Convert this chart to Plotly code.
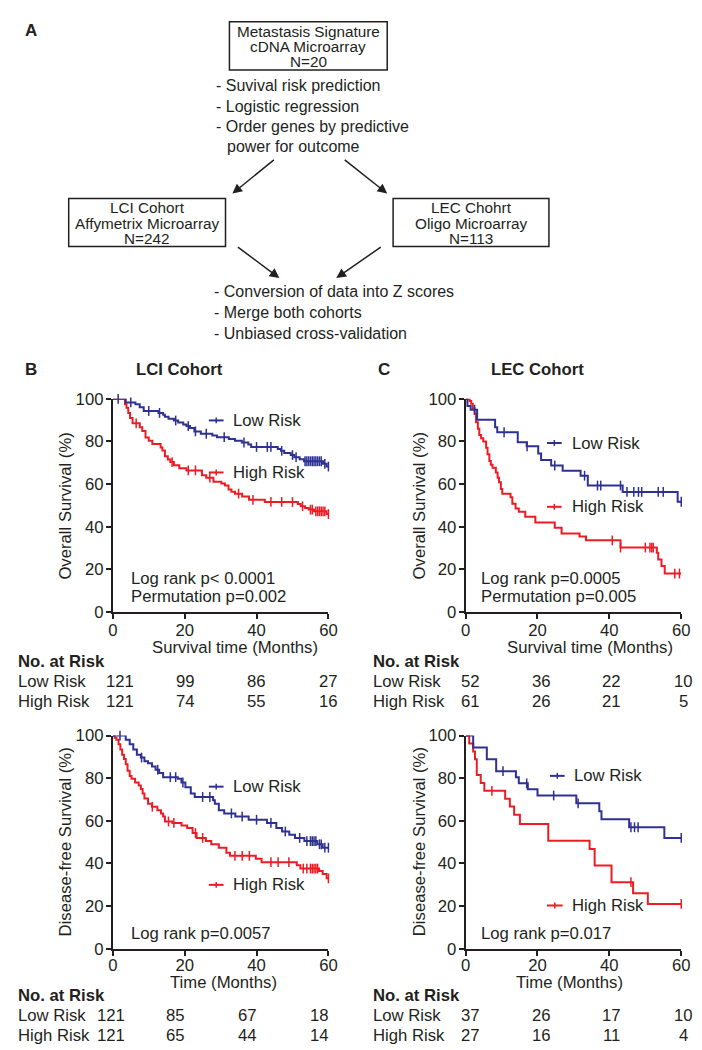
import numpy as np
import plotly.graph_objects as go

W, H = 702, 1050
def px(x): return x / W
def py(y): return 1 - y / H

FONT = "Liberation Sans, Arial, Helvetica, sans-serif"
BLACK = "#231F20"
BLUE = "#2E3192"
RED = "#ED1C24"
FS = 16.7

# ---------------- data (months, % surviving) ----------------
# LCI cohort, overall survival
lci_os_low_t = [0, 3.6, 6.3, 7.5, 8.6, 12.7, 14.0, 14.5, 15.5, 17.0, 18.2, 19.6, 20.5, 21.5, 22.7, 24.5, 27.7, 29.0,
                32.3, 34.0, 35.9, 37.7, 38.5, 45.9, 46.8, 47.7, 49.5, 50.5, 52.0, 53.2, 58.5, 59.5, 60]
lci_os_low_s = [100, 98.3, 97.5, 96.0, 94.3, 93.4, 92.5, 91.6, 90.7, 89.8, 88.9, 88.0, 87.2, 86.3, 84.7, 83.6, 82.8, 82.0,
                81.1, 80.3, 79.5, 78.6, 77.4, 76.5, 75.6, 74.6, 73.6, 72.6, 71.6, 70.7, 69.5, 68.2, 68.2]
lci_os_low_cens = [1.5, 5.0, 10.0, 13.0, 17.5, 21.0, 23.0, 26.0, 31.0, 36.5, 40.0, 43.0, 44.0, 47.0, 50.0, 51.0,
                   53.5, 54.0, 54.5, 55.0, 55.5, 56.0, 56.5, 57.0, 57.5, 58.0, 59.0, 60.0]

lci_os_high_t = [0, 3.4, 3.8, 4.3, 4.8, 5.5, 7.5, 8.2, 9.1, 10.0, 11.0, 13.3, 13.8, 14.5, 15.3, 16.0, 17.0, 18.5, 20.5,
                 24.8, 26.0, 28.0, 30.2, 31.2, 32.2, 33.0, 34.0, 36.0, 37.9, 42.3, 51.5, 52.3, 53.5, 54.5, 56.0, 59.5, 60]
lci_os_high_s = [100, 97.5, 95.8, 93.4, 91.0, 88.5, 86.7, 84.9, 81.8, 80.3, 78.8, 77.2, 75.7, 73.0, 71.5, 70.3, 68.8, 67.4,
                 66.4, 64.1, 63.0, 61.1, 60.2, 59.3, 57.5, 56.4, 55.5, 54.2, 52.6, 51.6, 50.6, 49.6, 48.8, 48.0, 47.2, 45.9, 45.9]
lci_os_high_cens = [6.5, 16.5, 21.0, 23.0, 27.0, 35.0, 39.0, 44.0, 47.0, 50.0, 52.8, 55.0, 55.5, 56.5, 57.0, 57.5,
                    58.0, 58.5, 59.0, 60.0]

# LEC cohort, overall survival
lec_os_low_t = [0, 0.5, 1.4, 3.2, 8.2, 8.8, 14.5, 17.0, 20.2, 21.0, 23.8, 27.0, 32.0, 34.0, 43.7, 59.0, 60]
lec_os_low_s = [100, 96.6, 94.9, 90.2, 86.6, 84.3, 79.6, 77.7, 74.3, 71.3, 68.7, 66.2, 63.9, 59.3, 56.3, 51.7, 51.7]
lec_os_low_cens = [2.5, 10.7, 17.1, 24.8, 33.1, 36.7, 37.6, 43.1, 44.9, 46.8, 48.1, 49.0, 53.6, 55.0, 60.0]

lec_os_high_t = [0, 1.1, 1.55, 2.0, 2.5, 2.9, 3.4, 3.8, 4.3, 4.9, 5.7, 6.1, 6.6, 7.0, 7.5, 8.4, 8.9, 9.3, 9.8, 10.2,
                 12.5, 13.0, 13.9, 14.8, 16.6, 19.4, 24.8, 26.7, 31.7, 33.5, 43.1, 53.2, 53.6, 54.5, 55.4, 60]
lec_os_high_s = [100, 99.0, 97.7, 95.4, 93.0, 89.0, 86.0, 83.0, 81.5, 80.0, 77.0, 74.0, 70.8, 69.0, 67.7, 65.4, 63.0,
                 60.8, 57.7, 55.4, 53.8, 50.8, 48.5, 47.0, 44.6, 42.0, 39.5, 36.8, 35.4, 33.6, 30.2, 27.7, 24.6, 21.5,
                 18.0, 18.0]
lec_os_high_cens = [40.8, 43.1, 50.0, 51.3, 51.8, 52.2, 58.2, 59.5]

# LCI cohort, disease-free survival
lci_dfs_low_t = [0, 3.6, 4.7, 5.7, 6.7, 7.8, 8.8, 9.8, 10.9, 11.9, 12.9, 14.0, 18.1, 19.1, 20.2, 21.7, 22.8, 27.9,
                 28.4, 29.5, 31.0, 34.1, 37.8, 42.9, 45.5, 47.1, 49.1, 50.7, 53.3, 56.9, 58.4, 60]
lci_dfs_low_s = [100, 98.0, 96.0, 93.5, 91.0, 89.7, 88.0, 87.0, 85.5, 84.0, 82.5, 80.5, 79.7, 78.0, 75.8, 72.8, 71.2,
                 69.7, 68.0, 65.0, 63.5, 62.0, 60.5, 59.0, 56.6, 55.0, 53.5, 52.0, 50.5, 49.0, 47.4, 47.4]
lci_dfs_low_cens = [2.0, 8.0, 12.5, 16.0, 17.5, 19.5, 25.0, 27.0, 33.0, 36.0, 40.0, 44.0, 48.0, 52.0, 54.0, 55.0,
                    55.5, 56.0, 56.5, 57.5, 58.0, 59.0, 60.0]

lci_dfs_high_t = [0, 0.5, 1.0, 1.6, 2.1, 2.6, 3.1, 3.6, 4.1, 4.7, 5.2, 6.2, 7.2, 7.8, 8.3, 8.8, 9.8, 10.9, 12.4, 13.4,
                  14.0, 14.5, 16.6, 19.1, 20.7, 22.2, 23.3, 25.9, 27.4, 29.5, 31.6, 32.6, 39.8, 41.4, 51.2, 52.2,
                  57.4, 58.4, 59.5, 60]
lci_dfs_high_s = [100, 99.0, 98.0, 96.0, 93.5, 91.0, 89.0, 86.6, 83.5, 81.0, 79.7, 78.0, 76.6, 75.0, 72.8, 70.5, 68.0,
                  66.6, 65.0, 63.5, 62.0, 59.7, 59.0, 57.8, 56.6, 54.3, 52.0, 50.5, 49.0, 47.4, 45.0, 43.6, 42.2,
                  40.6, 39.2, 37.6, 36.4, 35.0, 33.0, 33.0]
lci_dfs_high_cens = [11.0, 15.5, 17.0, 23.0, 25.0, 34.0, 36.0, 38.0, 44.0, 46.0, 49.0, 53.0, 54.0, 55.0, 55.5, 56.0,
                     56.5, 57.0, 60.0]

# LEC cohort, disease-free survival
lec_dfs_low_t = [0, 2.1, 5.9, 8.5, 14.0, 14.8, 17.3, 20.0, 30.8, 37.2, 37.8, 45.5, 55.3, 60]
lec_dfs_low_s = [100, 94.4, 88.9, 83.3, 80.5, 77.6, 74.8, 71.9, 68.2, 64.5, 60.7, 57.0, 52.0, 52.0]
lec_dfs_low_cens = [10.4, 17.0, 24.5, 31.3, 46.0, 47.0, 48.0, 60.0]

lec_dfs_high_t = [0, 1.0, 2.1, 2.6, 3.1, 4.2, 5.2, 11.0, 12.3, 13.5, 15.1, 23.0, 34.5, 35.9, 40.6, 46.6, 50.7, 60]
lec_dfs_high_s = [100, 96.3, 92.6, 88.9, 81.5, 77.8, 74.1, 70.4, 66.7, 62.8, 58.5, 50.6, 46.8, 39.0, 31.2, 26.0,
                  21.0, 21.0]
lec_dfs_high_cens = [7.3, 46.0, 60.0]

# numbers at risk
risk_times = [0, 20, 40, 60]
lci_os_risk_low = [121, 99, 86, 27]
lci_os_risk_high = [121, 74, 55, 16]
lec_os_risk_low = [52, 36, 22, 10]
lec_os_risk_high = [61, 26, 21, 5]
lci_dfs_risk_low = [121, 85, 67, 18]
lci_dfs_risk_high = [121, 65, 44, 14]
lec_dfs_risk_low = [37, 26, 17, 10]
lec_dfs_risk_high = [27, 16, 11, 4]

x_ticks = [0, 20, 40, 60]
y_ticks = [0, 20, 40, 60, 80, 100]

# ---------------- figure ----------------
fig = go.Figure()
annotations = []
shapes = []

def txt(x, y, s, size=FS, anchor="left", bold=False, angle=0, family=FONT):
    if bold:
        s = "<b>" + s + "</b>"
    annotations.append(dict(x=px(x), y=py(y), xref="paper", yref="paper", text=s, showarrow=False,
                            xanchor=anchor, yanchor="middle", textangle=angle,
                            font=dict(family=family, size=size, color=BLACK)))

def surv_at(t, s, tc):
    t = np.asarray(t); s = np.asarray(s)
    idx = np.searchsorted(t, tc, side="right") - 1
    return s[np.clip(idx, 0, len(s) - 1)]

panels = [
    dict(ax="", box=(110, 330, 397, 614), standoff=-3,
         low=(lci_os_low_t, lci_os_low_s, lci_os_low_cens), high=(lci_os_high_t, lci_os_high_s, lci_os_high_cens)),
    dict(ax="2", box=(470, 690, 397, 614), standoff=-3,
         low=(lec_os_low_t, lec_os_low_s, lec_os_low_cens), high=(lec_os_high_t, lec_os_high_s, lec_os_high_cens)),
    dict(ax="3", box=(110, 330, 740, 957), standoff=-5,
         low=(lci_dfs_low_t, lci_dfs_low_s, lci_dfs_low_cens), high=(lci_dfs_high_t, lci_dfs_high_s, lci_dfs_high_cens)),
    dict(ax="4", box=(470, 690, 740, 957), standoff=-5,
         low=(lec_dfs_low_t, lec_dfs_low_s, lec_dfs_low_cens), high=(lec_dfs_high_t, lec_dfs_high_s, lec_dfs_high_cens)),
]

for p in panels:
    a = p["ax"]
    x0, x1, y0, y1 = p["box"]
    for key, col in (("high", RED), ("low", BLUE)):
        t, s, c = p[key]
        fig.add_trace(go.Scatter(x=t, y=s, mode="lines", line=dict(color=col, width=2, shape="hv"),
                                 xaxis="x" + a, yaxis="y" + a, showlegend=False, cliponaxis=False,
                                 hoverinfo="skip"))
        fig.add_trace(go.Scatter(x=c, y=surv_at(t, s, c), mode="markers",
                                 marker=dict(symbol="line-ns", size=7, line=dict(color=col, width=1.5)),
                                 xaxis="x" + a, yaxis="y" + a, showlegend=False, cliponaxis=False,
                                 hoverinfo="skip"))
    axcommon = dict(showline=True, linecolor=BLACK, linewidth=2, ticks="outside", ticklen=5, tickwidth=2,
                    tickcolor=BLACK, showgrid=False, zeroline=False,
                    tickfont=dict(family=FONT, size=FS, color=BLACK), fixedrange=True)
    fig.update_layout(**{
        "xaxis" + a: dict(domain=[px(x0), px(x1)], range=[0, 60], tickvals=x_ticks, anchor="y" + a,
                          ticklabelstandoff=p["standoff"], **axcommon),
        "yaxis" + a: dict(domain=[py(y1), py(y0)], range=[0, 100], tickvals=y_ticks, anchor="x" + a,
                          ticklabelstandoff=-1, **axcommon),
    })

# legends inside the plots
def legend_item(x_line0, x_line1, y, col, label, x_text):
    shapes.append(dict(type="line", xref="paper", yref="paper", x0=px(x_line0), x1=px(x_line1), y0=py(y), y1=py(y),
                       line=dict(color=col, width=2)))
    xm = (x_line0 + x_line1) / 2
    shapes.append(dict(type="line", xref="paper", yref="paper", x0=px(xm), x1=px(xm), y0=py(y - 3), y1=py(y + 3),
                       line=dict(color=col, width=1.5)))
    txt(x_text, y, label)

legend_item(208, 223, 419, BLUE, "Low Risk", 231)
legend_item(208, 223, 472, RED, "High Risk", 231)
legend_item(553, 568, 442, BLUE, "Low Risk", 577)
legend_item(553, 568, 507, RED, "High Risk", 577)
legend_item(208, 223, 792, BLUE, "Low Risk", 231)
legend_item(208, 223, 892, RED, "High Risk", 231)
legend_item(556, 571, 781, BLUE, "Low Risk", 579)
legend_item(553, 569, 913, RED, "High Risk", 577)

# statistics
txt(127, 580, "Log rank p< 0.0001")
txt(127, 598, "Permutation p=0.002")
txt(484, 580, "Log rank p=0.0005")
txt(484, 598, "Permutation p=0.005")
txt(127, 942, "Log rank p=0.0057")
txt(484, 942, "Log rank p=0.017")

# axis titles
txt(62, 506, "Overall Survival (%)", anchor="center", angle=-90)
txt(423, 506, "Overall Survival (%)", anchor="center", angle=-90)
txt(62, 848, "Disease-free Survival (%)", anchor="center", angle=-90)
txt(423, 848, "Disease-free Survival (%)", anchor="center", angle=-90)
txt(235, 650.5, "Survival time (Months)", anchor="center")
txt(597, 650.5, "Survival time (Months)", anchor="center")
txt(223, 991.5, "Time (Months)", anchor="center")
txt(576, 991.5, "Time (Months)", anchor="center")

# number at risk tables
def risk_table(xl, y_head, xs, low, high):
    txt(xl, y_head, "No. at Risk", bold=True)
    txt(xl, y_head + 20, "Low Risk")
    txt(xl, y_head + 40, "High Risk")
    for xx, lo, hi in zip(xs, low, high):
        txt(xx, y_head + 20, str(lo), anchor="center")
        txt(xx, y_head + 40, str(hi), anchor="center")

risk_table(11, 665, [117, 184, 257, 330], lci_os_risk_low, lci_os_risk_high)
risk_table(373, 665, [475, 547, 619, 692], lec_os_risk_low, lec_os_risk_high)
risk_table(11, 1005, [108, 174, 247, 321], lci_dfs_risk_low, lci_dfs_risk_high)
risk_table(373, 1005, [475, 547, 619, 692], lec_dfs_risk_low, lec_dfs_risk_high)

# panel labels and titles
txt(18, 22, "A", size=17, bold=True)
txt(18, 367, "B", size=17, bold=True)
txt(379, 367, "C", size=17, bold=True)
txt(178, 367, "LCI Cohort", size=FS, anchor="center", bold=True)
txt(543, 367, "LEC Cohort", size=FS, anchor="center", bold=True)

# ---------------- panel A flowchart ----------------
AF = 16
BF = 15.3
def box(x0, x1, y0, y1, lines):
    shapes.append(dict(type="rect", xref="paper", yref="paper", x0=px(x0), x1=px(x1), y0=py(y1), y1=py(y0),
                       line=dict(color=BLACK, width=1.5)))
    xc = (x0 + x1) / 2
    for i, ln in enumerate(lines):
        txt(xc, y0 + 9.5 + 15.5 * i, ln, size=BF, anchor="center")

box(229, 390, 13, 62, ["Metastasis Signature", "cDNA Microarray", "N=20"])
box(65, 225, 193, 242, ["LCI Cohort", "Affymetrix Microarray", "N=242"])
box(396, 555, 193, 242, ["LEC Chohrt", "Oligo Microarray", "N=113"])

txt(213, 78, "- Suvival risk prediction", size=AF)
txt(213, 99, "- Logistic regression", size=AF)
txt(213, 119.5, "- Order genes by predictive", size=AF)
txt(224, 140, "power for outcome", size=AF)
txt(211, 288, "- Conversion of data into Z scores", size=AF)
txt(211, 309, "- Merge both cohorts", size=AF)
txt(211, 330, "- Unbiased cross-validation", size=AF)

def arrow(tx, ty, hx, hy):
    annotations.append(dict(x=px(hx), y=py(hy), xref="paper", yref="paper", ax=tx - hx, ay=ty - hy,
                            axref="pixel", ayref="pixel", text="", showarrow=True, arrowhead=2, arrowsize=1.3,
                            arrowwidth=1.5, arrowcolor=BLACK))

arrow(275, 153, 232, 188)
arrow(346, 153, 390, 188)
arrow(237, 242, 280, 274)
arrow(384, 242, 338, 274)

fig.update_layout(width=W, height=H, margin=dict(l=0, r=0, t=0, b=0), paper_bgcolor="white",
                  plot_bgcolor="white", showlegend=False, annotations=annotations, shapes=shapes)

fig.write_html("out.html", config={"displayModeBar": False},
               post_script="document.body.style.margin='0';document.body.style.padding='0';")
